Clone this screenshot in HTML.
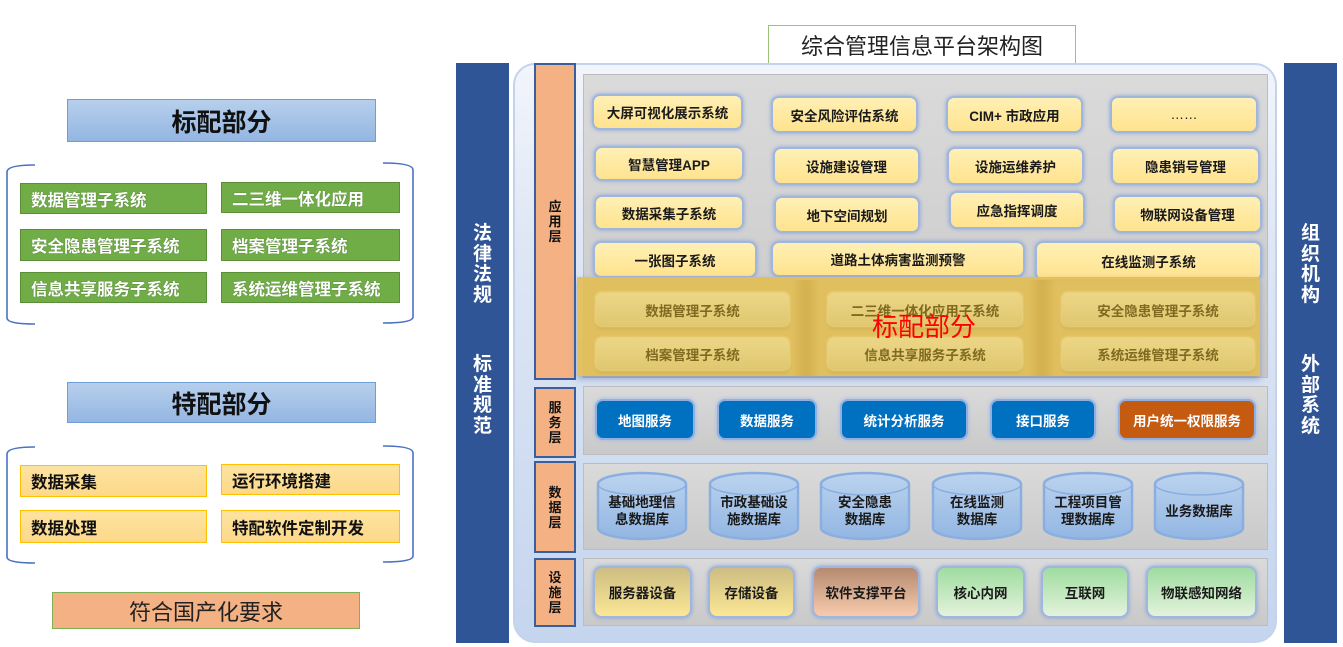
<!DOCTYPE html>
<html><head><meta charset="utf-8">
<style>
*{margin:0;padding:0;box-sizing:border-box}
body{width:1343px;height:647px;background:#fff;position:relative;overflow:hidden;font-family:"Liberation Sans","Noto Sans CJK SC",sans-serif}
.a{position:absolute}
.c{display:flex;align-items:center;justify-content:center;text-align:center}
.hdr{background:linear-gradient(#b7cfec,#94b6e2);border:1.5px solid #6f9dd8;font-weight:bold;font-size:25px;color:#111}
.g{background:#70ad47;border:1.5px solid #5a8e38;color:#fff;font-weight:bold;font-size:16.5px;padding-left:10px;display:flex;align-items:center;text-shadow:0 0 1px #3d5e25}
.y{background:linear-gradient(#fde3a0,#fdd889);border:1.5px solid #ffc000;color:#111;font-weight:bold;font-size:16.5px;padding-left:10px;display:flex;align-items:center}
.blue{background:#2f5597;width:53px}
.bt{color:#fff;font-weight:bold;font-size:19px;line-height:20.5px;width:53px;text-align:center}
.lay{background:#f4b183;border:2px solid #3a5f9e;font-weight:bold;font-size:13px;line-height:15px;color:#111;width:42px;left:534px}
.pan{background:linear-gradient(#dadada,#c9c9c9);border:1px solid #bdbdbd;left:583px;width:685px}
.ap{background:linear-gradient(#fff0b5,#ffe38e);border-radius:6px;box-shadow:0 0 0 2px #9fb6de,0 0 4px 2px #8aa6d6;font-weight:bold;font-size:13.5px;color:#1a1a1a}
.ov{background:linear-gradient(#ecd686,#e0c770);border-radius:6px;box-shadow:0 0 2px 1px #f2dc8c,0 2px 3px rgba(120,90,0,.3);font-weight:bold;font-size:13.5px;color:#806a20}
.sv{background:#0070c0;border-radius:6px;box-shadow:0 0 0 2px #8fb0e0,0 0 4px 2px #9ab8e6;font-weight:bold;font-size:13.5px;color:#fff;top:401px;height:37px}
.fc{border-radius:7px;box-shadow:0 0 0 2px #9fb6de,0 0 4px 2px #8aa6d6;font-weight:bold;font-size:13.5px;color:#1a1a1a;top:568px;height:48px}
.db{font-weight:bold;font-size:13.5px;line-height:17px;color:#1a1a1a;width:88px;top:494px;height:34px}
</style></head><body>

<!-- LEFT PANEL -->
<div class="a c hdr" style="left:67px;top:99px;width:309px;height:43px">标配部分</div>
<svg class="a" style="left:0;top:0" width="430" height="647">
 <g fill="none" stroke="#4a72c4" stroke-width="1.6">
  <path d="M35,165 Q7,165 7,172 L7,318 Q7,324 35,324"/>
  <path d="M383,163 Q413,163 413,170 L413,317 Q413,323 383,323"/>
  <path d="M35,447 Q7,447 7,454 L7,557 Q7,563 35,563"/>
  <path d="M383,446 Q413,446 413,453 L413,556 Q413,562 383,562"/>
 </g>
</svg>
<div class="a g" style="left:20px;top:183px;width:187px;height:31px">数据管理子系统</div>
<div class="a g" style="left:221px;top:182px;width:179px;height:31px">二三维一体化应用</div>
<div class="a g" style="left:20px;top:229px;width:187px;height:32px">安全隐患管理子系统</div>
<div class="a g" style="left:221px;top:229px;width:179px;height:32px">档案管理子系统</div>
<div class="a g" style="left:20px;top:272px;width:187px;height:31px">信息共享服务子系统</div>
<div class="a g" style="left:221px;top:272px;width:179px;height:31px">系统运维管理子系统</div>

<div class="a c hdr" style="left:67px;top:382px;width:309px;height:41px">特配部分</div>
<div class="a y" style="left:20px;top:465px;width:187px;height:32px">数据采集</div>
<div class="a y" style="left:221px;top:464px;width:179px;height:31px">运行环境搭建</div>
<div class="a y" style="left:20px;top:510px;width:187px;height:33px">数据处理</div>
<div class="a y" style="left:221px;top:510px;width:179px;height:33px">特配软件定制开发</div>
<div class="a c" style="left:52px;top:592px;width:308px;height:37px;background:#f4b183;border:1.5px solid #7cb255;font-size:22px;color:#222">符合国产化要求</div>

<!-- RIGHT DIAGRAM -->
<div class="a c" style="left:768px;top:25px;width:308px;height:39px;border:1.5px solid #9bc27a;background:#fff;font-size:22px;color:#222">综合管理信息平台架构图</div>

<div class="a blue" style="left:456px;top:63px;height:580px"></div>
<div class="a bt" style="left:456px;top:224px">法<br>律<br>法<br>规</div>
<div class="a bt" style="left:456px;top:355px">标<br>准<br>规<br>范</div>
<div class="a blue" style="left:1284px;top:63px;height:580px"></div>
<div class="a bt" style="left:1284px;top:224px">组<br>织<br>机<br>构</div>
<div class="a bt" style="left:1284px;top:355px">外<br>部<br>系<br>统</div>

<div class="a" style="left:513px;top:63px;width:764px;height:580px;border-radius:22px;border:2px solid #c3d3ee;background:linear-gradient(#f2f5fb,#dfe7f5 30%,#c5d5ee)"></div>

<!-- layer labels -->
<div class="a lay c" style="top:63px;height:317px">应<br>用<br>层</div>
<div class="a lay c" style="top:387px;height:71px">服<br>务<br>层</div>
<div class="a lay c" style="top:461px;height:92px">数<br>据<br>层</div>
<div class="a lay c" style="top:558px;height:69px">设<br>施<br>层</div>

<!-- panels -->
<div class="a pan" style="top:74px;height:304px"></div>
<div class="a pan" style="top:386px;height:69px"></div>
<div class="a pan" style="top:463px;height:87px"></div>
<div class="a pan" style="top:558px;height:68px"></div>

<!-- app boxes -->
<div class="a ap c" style="left:594px;top:96px;width:147px;height:32px">大屏可视化展示系统</div>
<div class="a ap c" style="left:773px;top:98px;width:143px;height:33px">安全风险评估系统</div>
<div class="a ap c" style="left:948px;top:98px;width:133px;height:33px">CIM+ 市政应用</div>
<div class="a ap c" style="left:1112px;top:98px;width:144px;height:33px;font-weight:normal">……</div>

<div class="a ap c" style="left:596px;top:148px;width:146px;height:31px">智慧管理APP</div>
<div class="a ap c" style="left:775px;top:149px;width:143px;height:34px">设施建设管理</div>
<div class="a ap c" style="left:949px;top:149px;width:133px;height:34px">设施运维养护</div>
<div class="a ap c" style="left:1113px;top:149px;width:145px;height:34px">隐患销号管理</div>

<div class="a ap c" style="left:596px;top:197px;width:146px;height:31px">数据采集子系统</div>
<div class="a ap c" style="left:776px;top:198px;width:142px;height:33px">地下空间规划</div>
<div class="a ap c" style="left:951px;top:193px;width:132px;height:34px">应急指挥调度</div>
<div class="a ap c" style="left:1115px;top:197px;width:145px;height:34px">物联网设备管理</div>

<div class="a ap c" style="left:595px;top:243px;width:160px;height:33px">一张图子系统</div>
<div class="a ap c" style="left:773px;top:243px;width:250px;height:32px">道路土体病害监测预警</div>
<div class="a ap c" style="left:1037px;top:243px;width:223px;height:36px">在线监测子系统</div>

<!-- overlay -->
<div class="a" style="left:577px;top:277px;width:683px;height:99px;background:rgba(226,190,82,0.9);box-shadow:0 3px 6px rgba(90,110,160,.5)"></div>
<div class="a" style="left:792px;top:280px;width:28px;height:96px;background:linear-gradient(90deg,rgba(190,150,50,0),rgba(190,150,50,.35),rgba(190,150,50,0))"></div>
<div class="a" style="left:1027px;top:280px;width:30px;height:96px;background:linear-gradient(90deg,rgba(190,150,50,0),rgba(190,150,50,.35),rgba(190,150,50,0))"></div>
<div class="a ov c" style="left:596px;top:293px;width:193px;height:33px">数据管理子系统</div>
<div class="a ov c" style="left:828px;top:293px;width:194px;height:33px">二三维一体化应用子系统</div>
<div class="a ov c" style="left:1062px;top:293px;width:192px;height:33px">安全隐患管理子系统</div>
<div class="a ov c" style="left:596px;top:338px;width:193px;height:32px">档案管理子系统</div>
<div class="a ov c" style="left:828px;top:338px;width:194px;height:32px">信息共享服务子系统</div>
<div class="a ov c" style="left:1062px;top:338px;width:192px;height:32px">系统运维管理子系统</div>
<div class="a" style="left:872px;top:311px;font-size:26px;line-height:32px;color:#ff0000">标配部分</div>

<!-- services -->
<div class="a sv c" style="left:597px;width:96px">地图服务</div>
<div class="a sv c" style="left:719px;width:96px">数据服务</div>
<div class="a sv c" style="left:842px;width:124px">统计分析服务</div>
<div class="a sv c" style="left:992px;width:102px">接口服务</div>
<div class="a sv c" style="left:1120px;width:134px;background:#c55a11">用户统一权限服务</div>

<!-- cylinders -->
<svg class="a" style="left:0;top:0" width="1343" height="647">
 <defs>
  <linearGradient id="cg" x1="0" y1="0" x2="0" y2="1"><stop offset="0" stop-color="#bcd3ee"/><stop offset="1" stop-color="#92b6e3"/></linearGradient>
  <g id="cy">
   <path d="M0,11 A44,11 0 0 1 88,11 L88,55 A44,11 0 0 1 0,55 Z" fill="url(#cg)" stroke="#8aaedf" stroke-width="2.5"/>
   <path d="M0,11 A44,11 0 0 0 88,11" fill="none" stroke="#8aaedf" stroke-width="1.5"/>
  </g>
 </defs>
 <use href="#cy" x="598" y="473"/>
 <use href="#cy" x="710" y="473"/>
 <use href="#cy" x="821" y="473"/>
 <use href="#cy" x="933" y="473"/>
 <use href="#cy" x="1044" y="473"/>
 <use href="#cy" x="1155" y="473"/>
</svg>
<div class="a db c" style="left:598px">基础地理信<br>息数据库</div>
<div class="a db c" style="left:710px">市政基础设<br>施数据库</div>
<div class="a db c" style="left:821px">安全隐患<br>数据库</div>
<div class="a db c" style="left:933px">在线监测<br>数据库</div>
<div class="a db c" style="left:1044px">工程项目管<br>理数据库</div>
<div class="a db c" style="left:1155px">业务数据库</div>

<!-- facilities -->
<div class="a fc c" style="left:595px;width:95px;background:linear-gradient(#cdbd82,#fbe795)">服务器设备</div>
<div class="a fc c" style="left:710px;width:83px;background:linear-gradient(#cdbd82,#fbe795)">存储设备</div>
<div class="a fc c" style="left:814px;width:104px;background:linear-gradient(#b58a70,#f8cbad)">软件支撑平台</div>
<div class="a fc c" style="left:938px;width:85px;background:linear-gradient(#9fdca0,#e4f2dc)">核心内网</div>
<div class="a fc c" style="left:1043px;width:84px;background:linear-gradient(#9fdca0,#e4f2dc)">互联网</div>
<div class="a fc c" style="left:1148px;width:107px;background:linear-gradient(#9fdca0,#e4f2dc)">物联感知网络</div>

</body></html>
